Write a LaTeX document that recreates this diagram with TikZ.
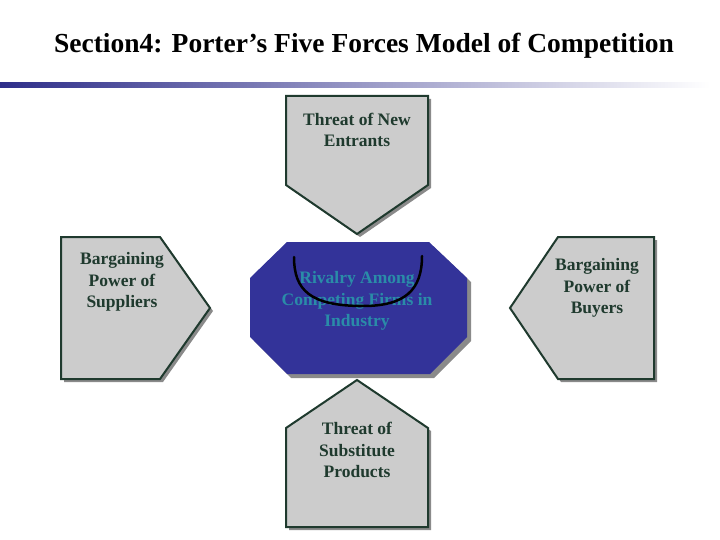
\documentclass[tikz,border=0pt]{standalone}
\usepackage{fontspec}
\setmainfont{Liberation Serif}
\definecolor{bord}{HTML}{1F3A2E}
\definecolor{fillg}{HTML}{CCCCCC}
\definecolor{octo}{HTML}{333399}
\definecolor{tealt}{HTML}{2A8CA8}
\definecolor{shad}{HTML}{8A8A8A}
\begin{document}
\begin{tikzpicture}[x=1pt,y=-1pt,
  shp/.style={fill=fillg,draw=bord,line width=2pt,line join=miter},
  shd/.style={fill=shad},
  lbl/.style={font=\bfseries\fontsize{17.5}{21.5}\selectfont,text=bord,align=center}]
\useasboundingbox (0,0) rectangle (720,540);
\shade[left color=octo!90!black,right color=white] (0,83) rectangle (710,88);
\node[font=\bfseries\fontsize{27.5}{32}\selectfont] (title) at (364,46) {Section4: Porter’s Five Forces Model of Competition};
% top
\fill[shd,shift={(3,3)}] (286,96) -- (428,96) -- (428,185) -- (357,234) -- (286,185) -- cycle;
\draw[shp] (286,96) -- (428,96) -- (428,185) -- (357,234) -- (286,185) -- cycle;
\node[lbl] (top) at (357,130) {Threat of New\\Entrants};
% left
\fill[shd,shift={(3,3)}] (61,237) -- (160,237) -- (210,308) -- (160,379) -- (61,379) -- cycle;
\draw[shp] (61,237) -- (160,237) -- (210,308) -- (160,379) -- (61,379) -- cycle;
\node[lbl] (left) at (122,282) {Bargaining\\Power of\\Suppliers};
% right
\fill[shd,shift={(3,3)}] (558,237) -- (654,237) -- (654,379) -- (558,379) -- (510,308) -- cycle;
\draw[shp] (558,237) -- (654,237) -- (654,379) -- (558,379) -- (510,308) -- cycle;
\node[lbl] (right) at (597,288) {Bargaining\\Power of\\Buyers};
% bottom
\fill[shd,shift={(3,3)}] (357,380) -- (428,428) -- (428,527) -- (286,527) -- (286,428) -- cycle;
\draw[shp] (357,380) -- (428,428) -- (428,527) -- (286,527) -- (286,428) -- cycle;
\node[lbl] (bottom) at (357,450) {Threat of\\Substitute\\Products};
% octagon
\fill[shd,shift={(4,4)}] (287,242) -- (429,242) -- (467,278) -- (467,337) -- (430,374) -- (287,374) -- (250,337) -- (250,278) -- cycle;
\fill[octo] (287,242) -- (429,242) -- (467,278) -- (467,337) -- (430,374) -- (287,374) -- (250,337) -- (250,278) -- cycle;
\node[lbl,text=tealt] (center) at (357,301) {Rivalry Among\\Competing Firms in\\Industry};
\draw[line width=2.5pt,line cap=round] (294,257) .. controls (294,290) and (310,306) .. (363,306) .. controls (405,306) and (422,290) .. (422,256);
\end{tikzpicture}
\end{document}
